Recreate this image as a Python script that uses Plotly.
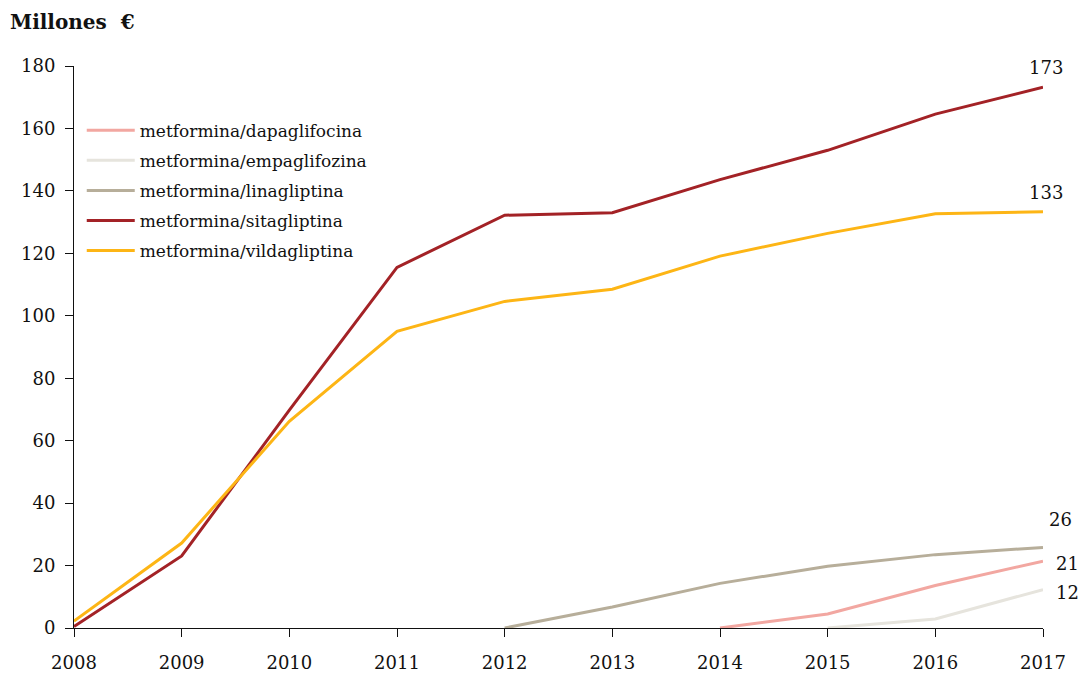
import plotly.graph_objects as go

years = [2008, 2009, 2010, 2011, 2012, 2013, 2014, 2015, 2016, 2017]

sitagliptina = [0.5, 23.1, 69.8, 115.5, 132.2, 133.0, 143.6, 153.0, 164.6, 173.2]
vildagliptina = [2.2, 27.2, 66.2, 95.0, 104.6, 108.5, 119.1, 126.4, 132.7, 133.3]
linagliptina = [None, None, None, None, 0.0, 6.7, 14.3, 19.8, 23.5, 25.8]
dapagliflozina = [None, None, None, None, None, None, 0.0, 4.5, 13.6, 21.4]
empagliflozina = [None, None, None, None, None, None, None, 0.0, 2.9, 12.3]

series = [
    ("metformina/dapaglifocina", dapagliflozina, "#F2A7A1"),
    ("metformina/empaglifozina", empagliflozina, "#E6E4DD"),
    ("metformina/linagliptina", linagliptina, "#B7AE9A"),
    ("metformina/sitagliptina", sitagliptina, "#A32226"),
    ("metformina/vildagliptina", vildagliptina, "#FDB515"),
]

FONT = "DejaVu Serif"

fig = go.Figure()
for name, vals, color in series:
    fig.add_trace(go.Scatter(
        x=years, y=vals, name=name, mode="lines", legendgroup=name,
        line=dict(color=color, width=3), connectgaps=False,
    ))

# end-of-line value labels: (value, x shift, y shift)
end_labels = [
    (sitagliptina[-1], 3, 20),
    (vildagliptina[-1], 3, 19),
    (linagliptina[-1], 17, 28),
    (dapagliflozina[-1], 24, -2),
    (empagliflozina[-1], 24, -3),
]
for val, dx, dy in end_labels:
    fig.add_annotation(
        x=years[-1], y=val, text=f"{round(val)}", showarrow=False,
        xanchor="center", yanchor="middle", xshift=dx, yshift=dy,
        font=dict(family=FONT, size=18, color="#111"),
    )

fig.add_annotation(
    x=0, y=1, xref="paper", yref="paper", xanchor="left", yanchor="top",
    text="<b>Millones  €</b>", showarrow=False,
    font=dict(family=FONT, size=20, color="#111"),
    xshift=-66, yshift=58,
)

fig.update_layout(
    width=1080, height=674,
    margin=dict(l=74, r=37, t=66, b=46),
    paper_bgcolor="white", plot_bgcolor="white",
    font=dict(family=FONT, size=18, color="#111"),
    showlegend=True,
    legend=dict(
        x=0.008, y=0.917, xanchor="left", yanchor="top",
        font=dict(family=FONT, size=17, color="#111"),
        tracegroupgap=5, itemwidth=48, bgcolor="rgba(0,0,0,0)",
    ),
    xaxis=dict(
        range=[2008, 2017], tickmode="array", tickvals=years, automargin=False,
        showgrid=False, zeroline=False, showline=True, linecolor="#111", linewidth=1,
        ticks="outside", ticklen=8, tickcolor="#111", ticklabelstandoff=10,
    ),
    yaxis=dict(
        range=[0, 180], tickmode="array", tickvals=list(range(0, 181, 20)), automargin=False,
        showgrid=False, zeroline=False, showline=True, linecolor="#111", linewidth=1,
        ticks="outside", ticklen=8, tickcolor="#111", ticklabelstandoff=6,
    ),
)

fig.write_html("out.html")
